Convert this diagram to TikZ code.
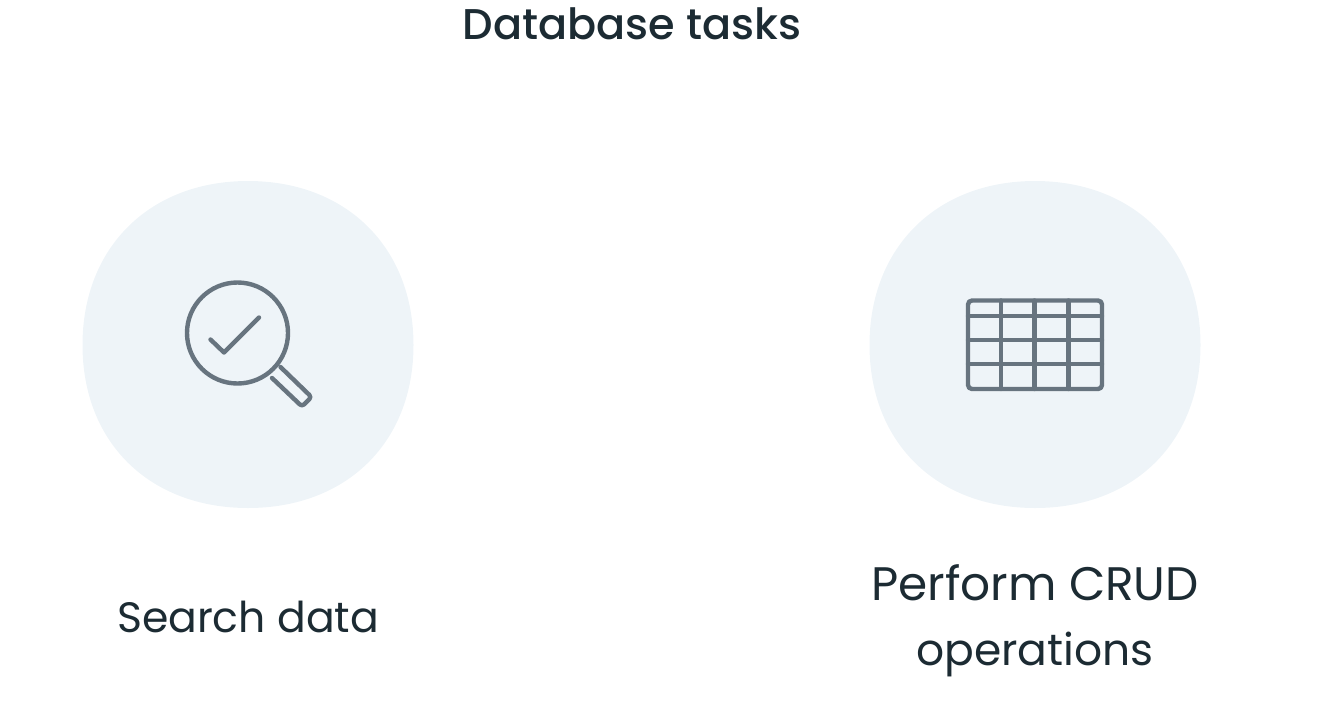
\documentclass[tikz,border=0pt]{standalone}
\usepackage{fontspec}
\setmainfont{Poppins}
\newfontfamily\titlefont{Poppins Medium}
\definecolor{blobfill}{HTML}{EEF4F8}
\definecolor{iconline}{HTML}{67747F}
\definecolor{textdark}{HTML}{1C2B33}
\tikzset{
  iconstroke/.style={draw=iconline,line width=4.4pt,line cap=round,line join=round},
  labeltext/.style={text=textdark,align=center,inner sep=0pt},
}
\begin{document}
\begin{tikzpicture}[x=1pt,y=-1pt]
  \useasboundingbox (0,0) rectangle (1319,713);
  % blobs
  \foreach \cx in {248,1035} {
    \fill[blobfill] (\cx-165.5,345) .. controls (\cx-165.5,247) and (\cx-98,181) .. (\cx,181)
      .. controls (\cx+98,181) and (\cx+165.5,247) .. (\cx+165.5,345)
      .. controls (\cx+165.5,443) and (\cx+98,508) .. (\cx,508)
      .. controls (\cx-98,508) and (\cx-165.5,443) .. (\cx-165.5,345) -- cycle;
  }
  \node[labeltext,font=\titlefont\fontsize{43pt}{50pt}\selectfont] (title) at (632,24) {Database tasks};
  \node[labeltext,font=\fontsize{42.5pt}{65pt}\selectfont] (search) at (248,617) {Search data};
  \node[labeltext,font=\fontsize{44pt}{65pt}\selectfont] (crud) at (1035,621) {{\fontsize{47pt}{65pt}\selectfont Perform CRUD}\\operations};
  % magnifier
  \draw[iconstroke] (237.5,333) circle (50.5);
  \draw[iconstroke] (210.5,339.5) -- (224,352.5) -- (259,317.5);
  \draw[iconstroke,rounded corners=3pt] (272,378) -- (302,406.5) -- (311.5,397) -- (280.5,367);
  % table
  \draw[iconstroke,rounded corners=4pt] (968,300.5) rectangle (1102,389);
  \foreach \y in {316,340,364} \draw[iconstroke] (968,\y) -- (1102,\y);
  \foreach \x in {1001,1034.5,1068.5} \draw[iconstroke] (\x,300.5) -- (\x,389);
\end{tikzpicture}
\end{document}
